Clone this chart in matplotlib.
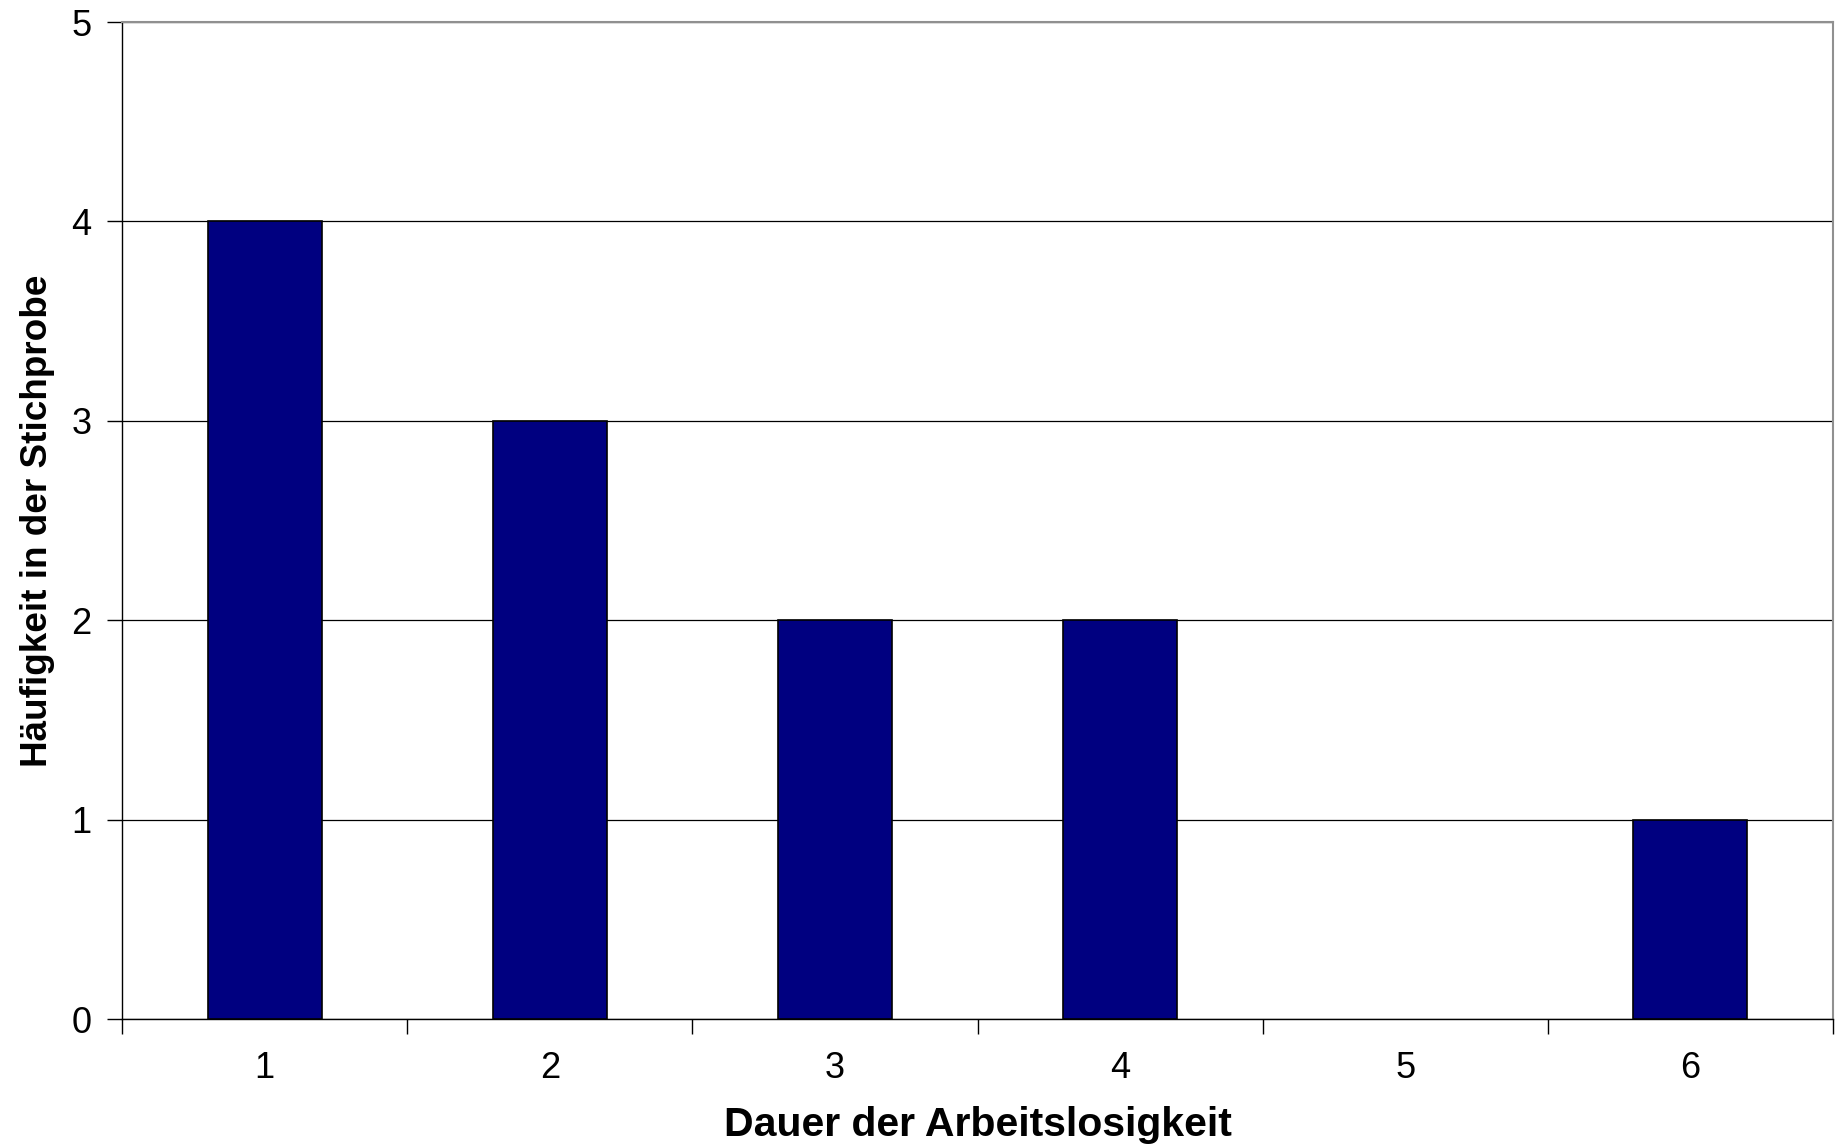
import numpy as np
import matplotlib
matplotlib.use('Agg')
from matplotlib import pyplot as plt

matplotlib.rcParams['font.family'] = "sans-serif"
matplotlib.rcParams['font.sans-serif'] = ["Liberation Sans", "DejaVu Sans"]

### data: frequency of each unemployment duration in the sample
dauer = [1, 2, 3, 4, 5, 6]
haeufigkeit = [4, 3, 2, 2, 0, 1]
dauer_labels = ['1', '2', '3', '4', '5', '6']
y_ticks = [0, 1, 2, 3, 4, 5]

fig = plt.figure(figsize=(18.43, 11.46), dpi=100)
ax = fig.add_axes([0.0662, 0.1108, 0.9284, 0.8700])

# empty classes get no outline, so nothing shows on the baseline
edge_lw = [1.2 if h > 0 else 0 for h in haeufigkeit]
ax.bar(dauer, haeufigkeit, width=0.40, color='#000080', edgecolor='black',
       linewidth=edge_lw, zorder=3)

ax.set_xlim(0.5, 6.5)
ax.set_ylim(0, 5)

# horizontal gridlines at every integer
ax.set_yticks(y_ticks)
ax.yaxis.grid(True, color='black', linewidth=0.9, zorder=0)
ax.set_axisbelow(True)

# x ticks sit between categories, labels sit in the middle
ax.set_xticks(np.arange(0.5, 7.0, 1.0))
ax.set_xticklabels([])
ax.set_xticks(dauer, minor=True)
ax.set_xticklabels(dauer_labels, minor=True)
ax.tick_params(axis='x', which='major', direction='out', length=11, width=1.0, color='black')
ax.tick_params(axis='x', which='minor', length=0, pad=23, labelsize=26)
ax.tick_params(axis='y', direction='out', length=11, width=1.0, pad=11, labelsize=26)

for side in ['left', 'bottom']:
    ax.spines[side].set_color('black')
    ax.spines[side].set_linewidth(1.0)
for side in ['top', 'right']:
    ax.spines[side].set_color('#909090')
    ax.spines[side].set_linewidth(1.5)

ax.set_xlabel('Dauer der Arbeitslosigkeit', fontsize=29.5, fontweight='bold')
ax.set_ylabel('Häufigkeit in der Stichprobe', fontsize=26.6, fontweight='bold')
ax.xaxis.set_label_coords(0.5, -0.0875)
ax.yaxis.set_label_coords(-0.039, 0.5)

plt.savefig('out.png', dpi=100)
